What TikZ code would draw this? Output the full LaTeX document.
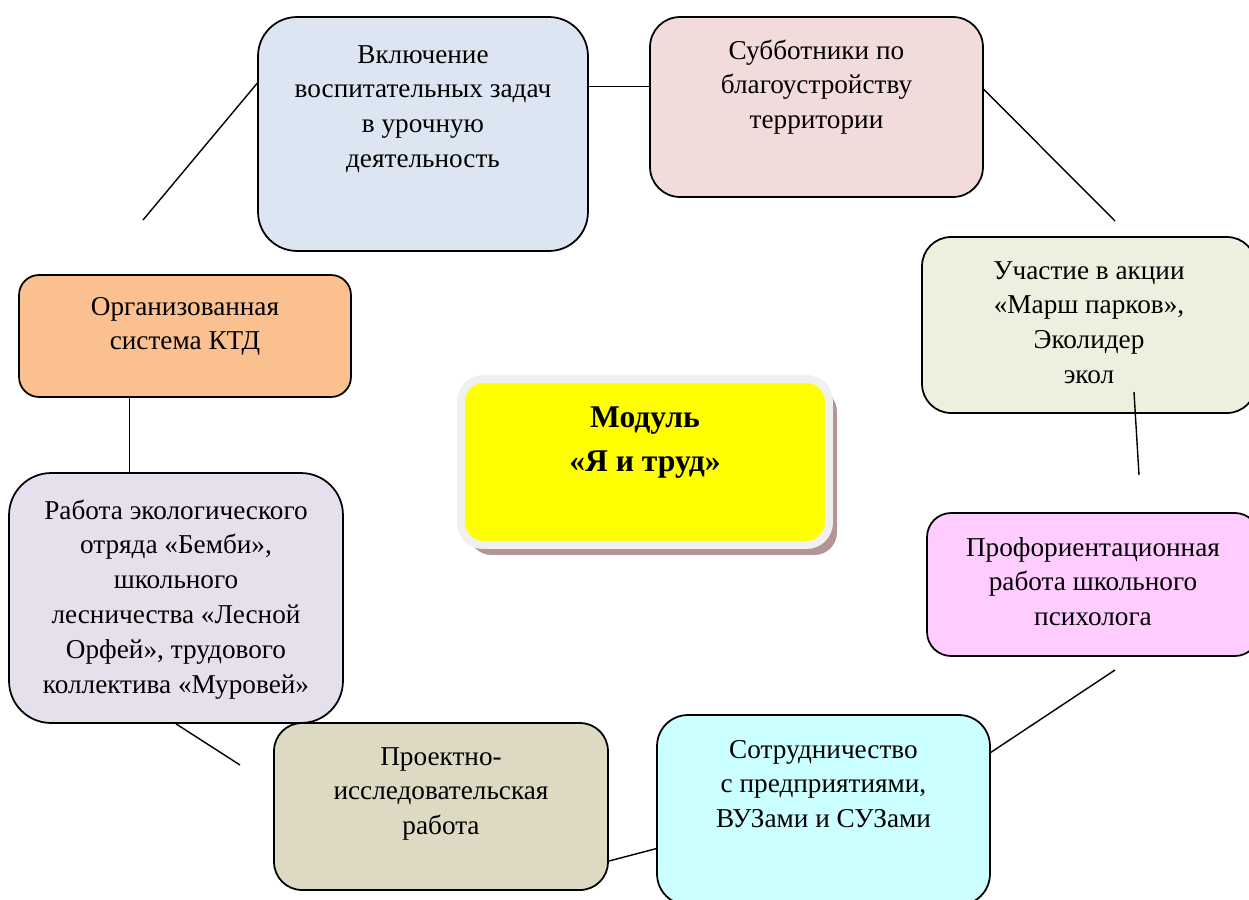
\documentclass[tikz,border=0pt]{standalone}
\usepackage{fontspec}
\setmainfont{Liberation Serif}
\usepackage{xcolor}
\usepackage{tikz}
\usetikzlibrary{shadows}

\definecolor{cincl}{HTML}{DCE6F2}
\definecolor{csubb}{HTML}{F2DCDB}
\definecolor{cuch}{HTML}{EBF1DE}
\definecolor{corg}{HTML}{FAC090}
\definecolor{crab}{HTML}{E5E0EC}
\definecolor{cproekt}{HTML}{DDD9C3}
\definecolor{csotr}{HTML}{CCFFFF}
\definecolor{cprof}{HTML}{FFCCFF}
\definecolor{cmodul}{HTML}{FFFF00}
\definecolor{cframe}{HTML}{F0F0F0}
\definecolor{cshadow}{HTML}{B49494}

% text at the top of a box: width, height, first baseline, lines
\newcommand{\boxtext}[4]{\parbox[c][#2][t]{#1}{\centering\rule{0pt}{#3}#4}}

\begin{document}
\begin{tikzpicture}[
    x=0.02cm, y=-0.02cm,
    box/.style={draw, rectangle, line width=1pt, inner sep=0pt, font=\fontsize{15.5}{19.9}\selectfont},
    link/.style={line width=0.8pt}
]
\useasboundingbox (0,0) rectangle (1249,900);

\node (incl) [box, fill=cincl, rounded corners=0.78cm] at (423,134)
    {\boxtext{6.6cm}{4.68cm}{0.92cm}{Включение\\воспитательных задач\\в урочную\\деятельность}};
\node (subb) [box, fill=csubb, rounded corners=0.6cm] at (816.5,107)
    {\boxtext{6.66cm}{3.6cm}{0.84cm}{Субботники по\\благоустройству\\территории}};
\node (uch) [box, fill=cuch, rounded corners=0.58cm] at (1089,325)
    {\boxtext{6.68cm}{3.52cm}{0.84cm}{Участие в акции\\«Марш парков»,\\Эколидер\\экол}};
\node (org) [box, fill=corg, rounded corners=0.4cm] at (185,336)
    {\boxtext{6.64cm}{2.44cm}{0.8cm}{Организованная\\система КТД}};
\node (rab) [box, fill=crab, rounded corners=0.84cm] at (176,598)
    {\boxtext{6.68cm}{5cm}{0.92cm}{Работа экологического\\отряда «Бемби»,\\школьного\\лесничества «Лесной\\Орфей», трудового\\коллектива «Муровей»}};
\node (proekt) [box, fill=cproekt, rounded corners=0.56cm] at (441,806.5)
    {\boxtext{6.68cm}{3.34cm}{0.84cm}{Проектно-\\исследовательская\\работа}};
\node (sotr) [box, fill=csotr, rounded corners=0.62cm] at (823.5,810)
    {\boxtext{6.66cm}{3.8cm}{0.86cm}{Сотрудничество\\с предприятиями,\\ВУЗами и СУЗами}};
\node (prof) [box, fill=cprof, rounded corners=0.48cm] at (1093,584.5)
    {\boxtext{6.64cm}{2.86cm}{0.86cm}{Профориентационная\\работа школьного\\психолога}};

\node (modul) [draw=cframe, line width=0.16cm, fill=cmodul, rounded corners=0.45cm, inner sep=0pt,
    drop shadow={shadow xshift=0.16cm, shadow yshift=-0.2cm, fill=cshadow, opacity=1},
    font=\fontsize{18}{25.6}\selectfont\bfseries] at (645,462)
    {\boxtext{7.36cm}{3.32cm}{0.96cm}{Модуль\\«Я и труд»}};

\coordinate (e1) at (143,220);
\coordinate (e3) at (1115,221);
\coordinate (e4a) at (1134,392);
\coordinate (e4b) at (1139,475);
\coordinate (e5) at (1115,670);
\coordinate (e7) at (240,765);

\draw [link] (e1) -- (incl.163.5);
\draw [link] (incl.16.5) -- (subb.west |- incl.16.5);
\draw [link] (subb.6.85) -- (e3);
\draw [link] (e4a) -- (e4b);
\draw [link] (e5) -- (sotr.19.8);
\draw [link] (sotr.193.5) -- (proekt.342.2);
\draw [link] (rab.south) -- (e7);
\draw [link] (org.228.5) -- (org.228.5 |- rab.north);
\end{tikzpicture}
\end{document}
